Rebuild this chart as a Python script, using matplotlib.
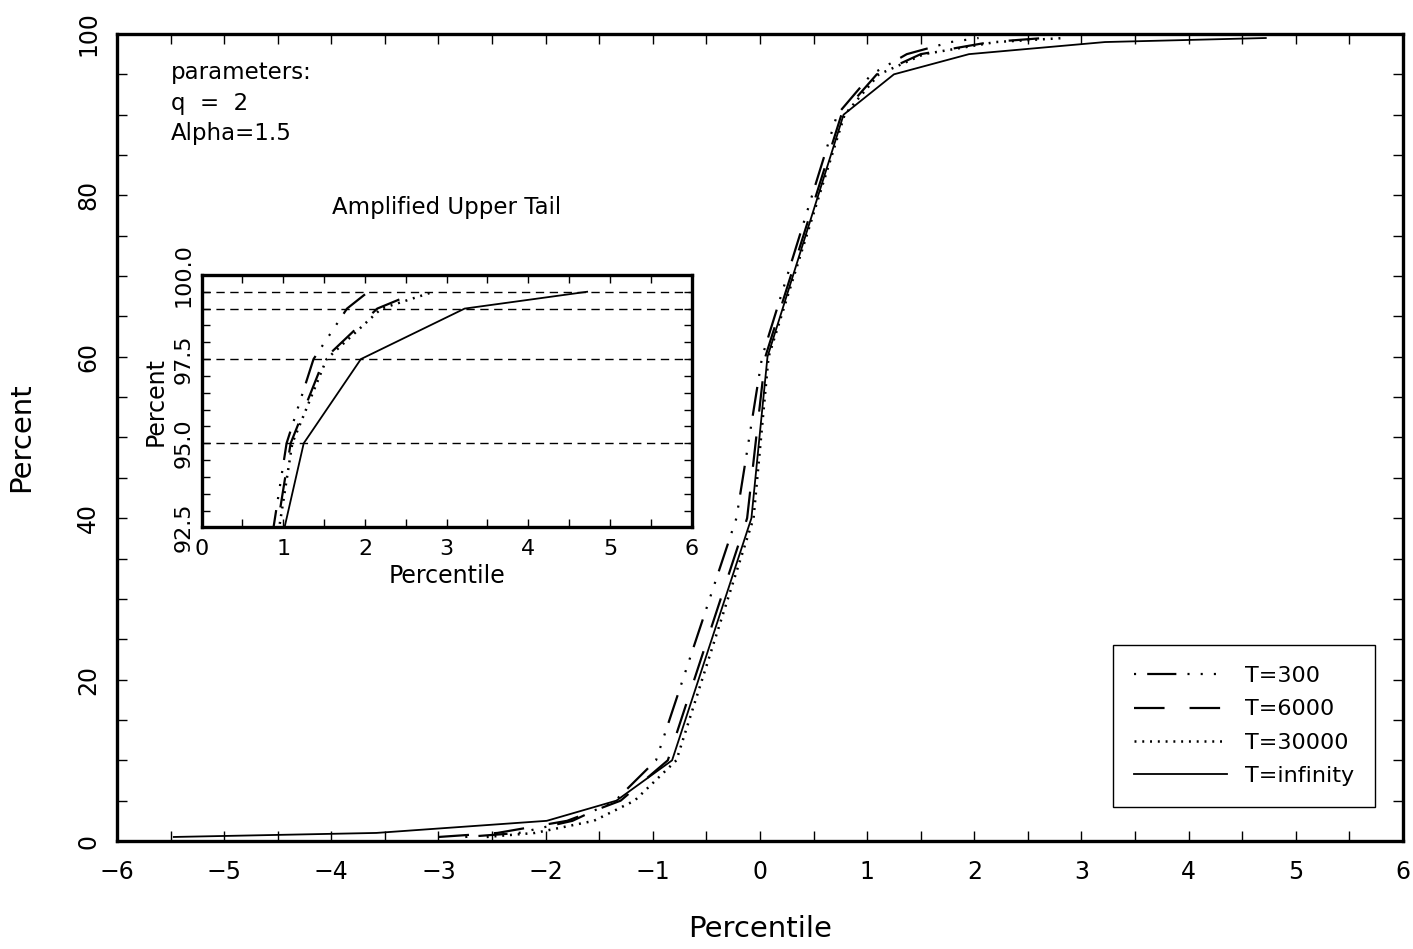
import numpy as np
import matplotlib
matplotlib.use('Agg')
import matplotlib.pyplot as plt
from matplotlib.ticker import MultipleLocator, FormatStrFormatter

plt.rcParams['font.family'] = ['DejaVu Sans']
plt.rcParams['lines.scale_dashes'] = False

# percent levels and quantiles
pct = [0.5, 1, 2.5, 5, 10, 40, 60, 90, 95, 97.5, 99, 99.5]
x_300 = [-2.75, -2.25, -1.75, -1.35, -0.97, -0.22, 0.02, 0.72, 1.04, 1.37, 1.78, 2.04]
x_6000 = [-3.0, -2.45, -1.8, -1.3, -0.86, -0.12, 0.05, 0.76, 1.09, 1.5, 2.15, 2.65]
x_30000 = [-2.55, -2.1, -1.55, -1.17, -0.78, -0.06, 0.08, 0.79, 1.11, 1.53, 2.2, 2.84]
x_inf = [-5.47, -3.58, -1.99, -1.34, -0.82, -0.08, 0.07, 0.78, 1.25, 1.95, 3.22, 4.72]
labels = ['T=300', 'T=6000', 'T=30000', 'T=infinity']
ref_levels = [95, 97.5, 99, 99.5]

styles = [
    dict(ls=(0, (1.5, 8, 21, 8, 1.5, 8, 1.5, 8)), lw=1.6),
    dict(ls=(0, (22, 18)), lw=1.6),
    dict(ls=(0, (1.4, 4.2)), lw=1.8),
    dict(ls='-', lw=1.3),
]
series = [x_300, x_6000, x_30000, x_inf]

fig = plt.figure(figsize=(14.13, 9.49), dpi=100)
ax = fig.add_axes([0.0828, 0.1138, 0.9101, 0.8504])

for xs, st, lab in zip(series, styles, labels):
    ax.plot(xs, pct, color='black', label=lab, **st)

ax.set_xlim(-6, 6)
ax.set_ylim(0, 100)
ax.xaxis.set_major_locator(MultipleLocator(1))
ax.xaxis.set_minor_locator(MultipleLocator(0.5))
ax.yaxis.set_major_locator(MultipleLocator(20))
ax.yaxis.set_minor_locator(MultipleLocator(5))
ax.tick_params(which='both', direction='in', top=True, right=True, length=7, width=1)
ax.tick_params(axis='x', labelsize=17, pad=14)
ax.tick_params(axis='y', labelsize=17, pad=12, labelrotation=90)
for lbl in ax.get_yticklabels():
    lbl.set_va('center')
for s in ax.spines.values():
    s.set_linewidth(2.4)
ax.set_xlabel('Percentile', fontsize=21, labelpad=22)
ax.set_ylabel('Percent', fontsize=21, labelpad=30)

ax.text(0.042, 0.966, 'parameters:\nq  =  2\nAlpha=1.5', transform=ax.transAxes,
        fontsize=16.5, va='top', ha='left', linespacing=1.4)

leg = ax.legend(loc='lower left', bbox_to_anchor=(0.7745, 0.042), fontsize=16,
                handlelength=4.2, fancybox=False, edgecolor='black', framealpha=1,
                borderpad=0.95, labelspacing=0.6, handletextpad=0.8, borderaxespad=0)
leg.get_frame().set_linewidth(1.0)

# inset: amplified upper tail
ins = fig.add_axes([0.1427, 0.4442, 0.3468, 0.2661])
for xs, st in zip(series, styles):
    ins.plot(xs, pct, color='black', **st)
for lv in ref_levels:
    ins.axhline(lv, color='black', lw=1.0, ls=(0, (6, 4)))
ins.set_xlim(0, 6)
ins.set_ylim(92.5, 100)
ins.xaxis.set_major_locator(MultipleLocator(1))
ins.xaxis.set_minor_locator(MultipleLocator(0.5))
ins.yaxis.set_major_locator(MultipleLocator(2.5))
ins.yaxis.set_minor_locator(MultipleLocator(0.5))
ins.yaxis.set_major_formatter(FormatStrFormatter('%.1f'))
ins.tick_params(which='both', direction='in', top=True, right=True, length=5.5, width=1)
ins.tick_params(axis='x', labelsize=16, pad=8)
ins.tick_params(axis='y', labelsize=16, pad=6, labelrotation=90)
for lbl in ins.get_yticklabels():
    lbl.set_va('center')
for s in ins.spines.values():
    s.set_linewidth(2.4)
ins.set_xlabel('Percentile', fontsize=17, labelpad=4)
ins.set_ylabel('Percent', fontsize=17, labelpad=4)
ins.set_title('Amplified Upper Tail', fontsize=16.5, pad=44)

fig.savefig('out.png', dpi=100)
